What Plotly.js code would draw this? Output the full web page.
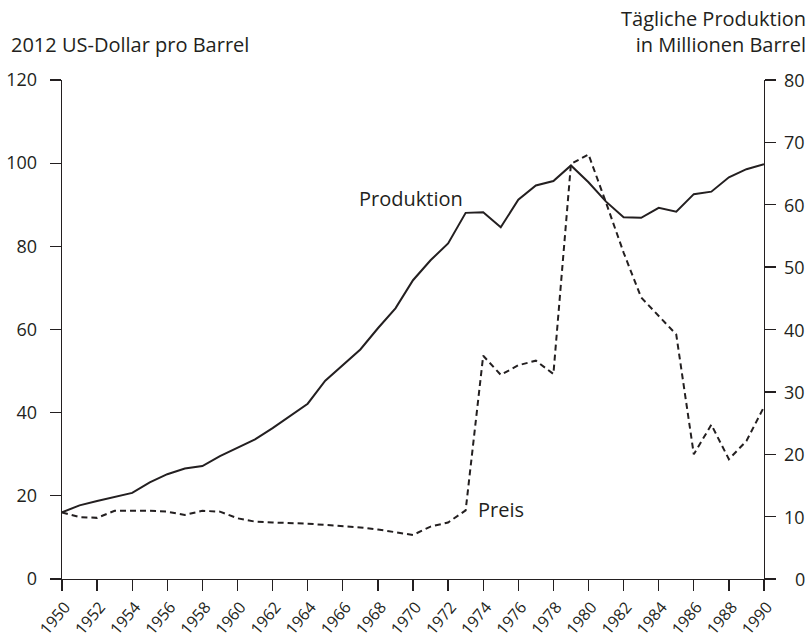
<!DOCTYPE html>
<html>
<head>
<meta charset="utf-8">
<script src="https://cdn.plot.ly/plotly-3.0.1.min.js"></script>
<style>
html, body { margin: 0; padding: 0; background: #ffffff; }
#chart { width: 811px; height: 642px; }
</style>
</head>
<body>
<div id="chart"></div>
<script>
const years = [1950,1951,1952,1953,1954,1955,1956,1957,1958,1959,
               1960,1961,1962,1963,1964,1965,1966,1967,1968,1969,
               1970,1971,1972,1973,1974,1975,1976,1977,1978,1979,
               1980,1981,1982,1983,1984,1985,1986,1987,1988,1989,1990];

// Preis: 2012 US-Dollar pro Barrel (left axis)
const preis = [16.0,14.9,14.7,16.4,16.4,16.4,16.2,15.4,16.4,16.2,
               14.6,13.8,13.6,13.5,13.3,13.0,12.7,12.4,11.9,11.2,
               10.6,12.6,13.6,16.5,53.7,49.1,51.4,52.5,49.3,99.8,
               102.1,90.5,78.5,67.7,63.3,58.8,30.0,37.1,28.8,33.2,41.4];

// Produktion: Millionen Barrel pro Tag (right axis)
const produktion = [10.7,11.8,12.5,13.1,13.8,15.5,16.8,17.7,18.1,19.7,
                    21.0,22.4,24.2,26.1,28.1,31.8,34.3,36.8,40.2,43.4,
                    47.9,51.1,53.8,58.7,58.8,56.4,60.8,63.1,63.8,66.3,
                    63.6,60.5,58.0,57.9,59.5,58.9,61.7,62.1,64.4,65.7,66.5];

const xTicks = [1950,1952,1954,1956,1958,1960,1962,1964,1966,1968,1970,
                1972,1974,1976,1978,1980,1982,1984,1986,1988,1990];
const leftTicks = [0,20,40,60,80,100,120];
const rightTicks = [0,10,20,30,40,50,60,70,80];

const ink = '#231f20';
const fontFam = '"Open Sans", "Noto Sans", sans-serif';

const traces = [
  {
    x: years, y: produktion, yaxis: 'y2', type: 'scatter', mode: 'lines',
    name: 'Produktion', line: {color: ink, width: 2}, hoverinfo: 'skip'
  },
  {
    x: years, y: preis, yaxis: 'y', type: 'scatter', mode: 'lines',
    name: 'Preis', line: {color: ink, width: 2, dash: '6px,4px'}, hoverinfo: 'skip'
  }
];

// right-aligned labels for the right axis
const rightLabels = rightTicks.map(v => ({
  text: String(v), xref: 'paper', yref: 'y2', x: 1.0608, y: v,
  xanchor: 'right', yanchor: 'middle', showarrow: false,
  font: {size: 18, family: fontFam, color: ink}
}));

const layout = {
  width: 811, height: 642,
  margin: {l: 62, r: 47, t: 80, b: 63, pad: 0},
  paper_bgcolor: '#ffffff', plot_bgcolor: '#ffffff',
  showlegend: false,
  font: {family: fontFam, color: ink, size: 18},
  xaxis: {
    range: [1950, 1990], tickvals: xTicks, ticktext: xTicks.map(String),
    ticks: 'outside', ticklen: 11, tickwidth: 1.3, tickcolor: ink,
    showline: true, linecolor: ink, linewidth: 1.3,
    showgrid: false, zeroline: false, tickangle: -50, ticklabelshift: 3,
    tickfont: {size: 16, family: fontFam, color: ink}
  },
  yaxis: {
    range: [0, 120], tickvals: leftTicks,
    ticks: 'outside', ticklen: 11, tickwidth: 1.3, tickcolor: ink,
    showline: true, linecolor: ink, linewidth: 1.3,
    showgrid: false, zeroline: false, ticklabelstandoff: 9,
    tickfont: {size: 18, family: fontFam, color: ink}
  },
  yaxis2: {
    range: [0, 80], tickvals: rightTicks, overlaying: 'y', side: 'right',
    ticks: 'outside', ticklen: 11, tickwidth: 1.3, tickcolor: ink,
    showline: true, linecolor: ink, linewidth: 1.3, showticklabels: false,
    showgrid: false, zeroline: false
  },
  annotations: [
    {text: '2012 US-Dollar pro Barrel', xref: 'paper', yref: 'paper',
     x: -0.075, y: 1.072, xanchor: 'left', yanchor: 'middle', showarrow: false,
     font: {size: 20, family: fontFam, color: ink}},
    {text: 'Tägliche Produktion<br>in Millionen Barrel', xref: 'paper', yref: 'paper',
     x: 1.0623, y: 1.098, xanchor: 'right', yanchor: 'middle', align: 'right', showarrow: false,
     font: {size: 20, family: fontFam, color: ink}},
    {text: 'Produktion', xref: 'x', yref: 'y', x: 1966.8, y: 91.6,
     xanchor: 'left', yanchor: 'middle', showarrow: false,
     font: {size: 20, family: fontFam, color: ink}},
    {text: 'Preis', xref: 'x', yref: 'y', x: 1973.6, y: 16.6,
     xanchor: 'left', yanchor: 'middle', showarrow: false,
     font: {size: 20, family: fontFam, color: ink}}
  ].concat(rightLabels)
};

Plotly.newPlot('chart', traces, layout, {displayModeBar: false, staticPlot: true});
</script>
</body>
</html>
